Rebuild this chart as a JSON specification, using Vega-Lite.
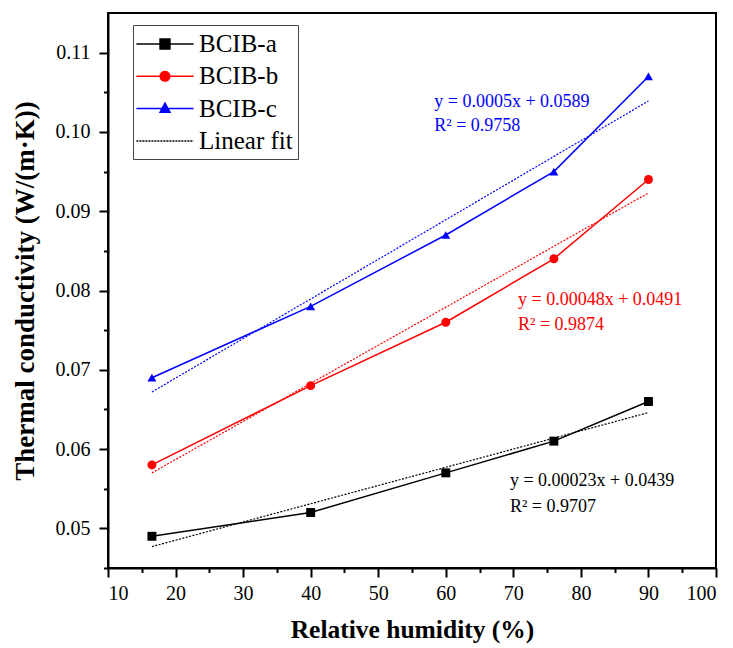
{
  "$schema": "https://vega.github.io/schema/vega-lite/v6.json",
  "autosize": {"type": "none"},
  "padding": {"left": 108, "top": 13, "right": 17, "bottom": 80},
  "width": 608,
  "height": 555,
  "background": "white",
  "config": {
    "font": "Liberation Serif",
    "view": {"stroke": "black", "strokeWidth": 2},
    "axis": {"domainColor": "black", "domainWidth": 2, "tickColor": "black", "tickWidth": 2, "grid": false, "labelFont": "Liberation Serif", "labelFontSize": 20, "labelColor": "black", "titleFont": "Liberation Serif", "titleFontSize": 25, "titleFontWeight": "bold", "titleColor": "black"}
  },
  "datasets": {
    "measured": [
      {"series": "BCIB-a", "rh": 16.5, "k": 0.049},
      {"series": "BCIB-a", "rh": 40, "k": 0.052},
      {"series": "BCIB-a", "rh": 60, "k": 0.057},
      {"series": "BCIB-a", "rh": 76, "k": 0.061},
      {"series": "BCIB-a", "rh": 90, "k": 0.066},
      {"series": "BCIB-b", "rh": 16.5, "k": 0.058},
      {"series": "BCIB-b", "rh": 40, "k": 0.068},
      {"series": "BCIB-b", "rh": 60, "k": 0.076},
      {"series": "BCIB-b", "rh": 76, "k": 0.084},
      {"series": "BCIB-b", "rh": 90, "k": 0.094},
      {"series": "BCIB-c", "rh": 16.5, "k": 0.069},
      {"series": "BCIB-c", "rh": 40, "k": 0.078},
      {"series": "BCIB-c", "rh": 60, "k": 0.087},
      {"series": "BCIB-c", "rh": 76, "k": 0.095},
      {"series": "BCIB-c", "rh": 90, "k": 0.107}
    ],
    "fit": [
      {"series": "BCIB-a", "rh": 16.5, "k": 0.0477},
      {"series": "BCIB-a", "rh": 90, "k": 0.0646},
      {"series": "BCIB-b", "rh": 16.5, "k": 0.0570},
      {"series": "BCIB-b", "rh": 90, "k": 0.0923},
      {"series": "BCIB-c", "rh": 16.5, "k": 0.0672},
      {"series": "BCIB-c", "rh": 90, "k": 0.1039}
    ],
    "notes": [
      {"series": "BCIB-a", "rh": 69.5, "k": 0.0553, "label": "y = 0.00023x + 0.0439"},
      {"series": "BCIB-a", "rh": 69.5, "k": 0.0521, "label": "R² = 0.9707"},
      {"series": "BCIB-b", "rh": 70.7, "k": 0.0782, "label": "y = 0.00048x + 0.0491"},
      {"series": "BCIB-b", "rh": 70.7, "k": 0.0750, "label": "R² = 0.9874"},
      {"series": "BCIB-c", "rh": 58.3, "k": 0.1032, "label": "y = 0.0005x + 0.0589"},
      {"series": "BCIB-c", "rh": 58.3, "k": 0.1001, "label": "R² = 0.9758"}
    ]
  },
  "resolve": {"axis": {"x": "independent", "y": "independent"}},
  "layer": [
    {
      "data": {"name": "fit"},
      "mark": {"type": "line", "strokeDash": [2, 1.5], "strokeWidth": 1.2},
      "encoding": {
        "x": {"field": "rh", "type": "quantitative", "scale": {"domain": [10, 100], "nice": false, "zero": false},
              "axis": {"orient": "bottom", "values": [15, 25, 35, 45, 55, 65, 75, 85, 95], "labels": false, "tickSize": 4.5, "domain": false, "title": null}},
        "y": {"field": "k", "type": "quantitative", "scale": {"domain": [0.045, 0.115], "nice": false, "zero": false},
              "axis": {"orient": "left", "values": [0.045, 0.055, 0.065, 0.075, 0.085, 0.095, 0.105], "labels": false, "tickSize": 4.5, "domain": false, "title": null}},
        "color": {"field": "series", "type": "nominal",
                  "scale": {"domain": ["BCIB-a", "BCIB-b", "BCIB-c", "Linear fit"], "range": ["#000000", "#ff0000", "#0000ff", "#000000"]},
                  "legend": {
                    "title": null, "orient": "none", "legendX": 25, "legendY": 12,
                    "strokeColor": "#444444", "fillColor": "white", "padding": 5, "rowPadding": 5.3,
                    "labelFont": "Liberation Serif", "labelFontSize": 25, "labelColor": "black", "labelOffset": 20,
                    "symbolSize": 676, "symbolOffset": 13,
                    "encode": {"symbols": {"update": {
                      "shape": {"signal": "datum.value === 'BCIB-a' ? 'M-2.2,0H2.2M-0.38,-0.38H0.38V0.38H-0.38Z' : datum.value === 'BCIB-b' ? 'M-2.2,0H2.2M-0.37,0A0.37,0.37 0 1,0 0.37,0A0.37,0.37 0 1,0 -0.37,0Z' : datum.value === 'BCIB-c' ? 'M-2.2,0H2.2M0,-0.42L0.38,0.28H-0.38Z' : 'M-2.2,0H2.2'"},
                      "fill": {"signal": "datum.value === 'Linear fit' ? 'transparent' : scale('color', datum.value)"},
                      "stroke": {"signal": "scale('color', datum.value)"},
                      "strokeDash": {"signal": "datum.value === 'Linear fit' ? [2, 1] : [1, 0]"},
                      "strokeWidth": {"value": 1.5},
                      "opacity": {"value": 1},
                      "fillOpacity": {"value": 1},
                      "size": {"value": 676}
                    }}}
                  }}
      }
    },
    {
      "data": {"name": "measured"},
      "mark": {"type": "line", "strokeWidth": 1.5},
      "encoding": {
        "x": {"field": "rh", "type": "quantitative", "title": "Relative humidity (%)",
              "axis": {"orient": "bottom", "values": [10, 20, 30, 40, 50, 60, 70, 80, 90, 100], "tickSize": 9, "labelPadding": 6, "titlePadding": 14, "titleFontSize": 25.5}},
        "y": {"field": "k", "type": "quantitative", "title": "Thermal conductivity (W/(m·K))",
              "axis": {"orient": "left", "values": [0.05, 0.06, 0.07, 0.08, 0.09, 0.1, 0.11], "format": ".2f", "tickSize": 9, "labelPadding": 9, "titlePadding": 16, "titleFontSize": 27}},
        "color": {"field": "series", "type": "nominal"}
      }
    },
    {
      "data": {"name": "measured"},
      "mark": {"type": "point", "filled": true, "opacity": 1, "size": 80},
      "encoding": {
        "x": {"field": "rh", "type": "quantitative", "axis": null},
        "y": {"field": "k", "type": "quantitative", "axis": null},
        "color": {"field": "series", "type": "nominal"},
        "shape": {"field": "series", "type": "nominal", "scale": {"domain": ["BCIB-a", "BCIB-b", "BCIB-c"], "range": ["square", "circle", "triangle-up"]}, "legend": null}
      }
    },
    {
      "data": {"name": "notes"},
      "mark": {"type": "text", "align": "left", "baseline": "alphabetic", "font": "Liberation Serif", "fontSize": 18},
      "encoding": {
        "x": {"field": "rh", "type": "quantitative", "axis": null},
        "y": {"field": "k", "type": "quantitative", "axis": null},
        "color": {"field": "series", "type": "nominal"},
        "text": {"field": "label", "type": "nominal"}
      }
    }
  ]
}
